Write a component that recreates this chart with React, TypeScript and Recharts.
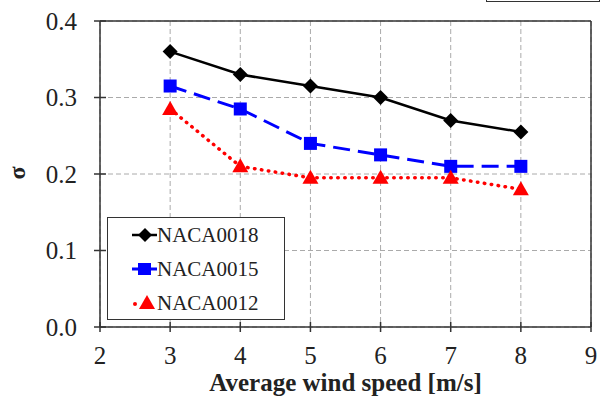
import React from 'react';
import { LineChart, Line, XAxis, YAxis, CartesianGrid, ReferenceLine, Label } from 'recharts';

const windSpeeds = [3, 4, 5, 6, 7, 8];
const naca0018 = [0.36, 0.33, 0.315, 0.3, 0.27, 0.255];
const naca0015 = [0.315, 0.285, 0.24, 0.225, 0.21, 0.21];
const naca0012 = [0.285, 0.21, 0.195, 0.195, 0.195, 0.18];
const xTicks = [2, 3, 4, 5, 6, 7, 8, 9];
const yTicks = [0, 0.1, 0.2, 0.3, 0.4];
const seriesNames = ['NACA0018', 'NACA0015', 'NACA0012'];

const data = windSpeeds.map((x, i) => ({
  x,
  a: naca0018[i],
  b: naca0015[i],
  c: naca0012[i],
}));

const FONT = 'Liberation Serif';
const AXIS = '#333';

const Diamond = (props: any) => {
  const { cx, cy } = props;
  if (cx == null || cy == null) return null;
  const r = 7.5;
  return <polygon points={`${cx},${cy - r} ${cx + r},${cy} ${cx},${cy + r} ${cx - r},${cy}`} fill="#000" />;
};
const Square = (props: any) => {
  const { cx, cy } = props;
  if (cx == null || cy == null) return null;
  const r = 6.5;
  return <rect x={cx - r} y={cy - r} width={2 * r} height={2 * r} fill="#0000ff" />;
};
const Triangle = (props: any) => {
  const { cx, cy } = props;
  if (cx == null || cy == null) return null;
  const r = 8;
  return <polygon points={`${cx},${cy - r} ${cx + r},${cy + r * 0.75} ${cx - r},${cy + r * 0.75}`} fill="#ff0000" />;
};

const XTick = (props: any) => {
  const { x, y, payload } = props;
  const axisY = y - 5 - 14;
  return (
    <g>
      <line x1={x} x2={x} y1={axisY - 5} y2={axisY + 5} stroke={AXIS} strokeWidth={1.5} />
      <text x={x} y={y} dy="0.71em" textAnchor="middle" fontFamily={FONT} fontSize={25} fill="#222">
        {payload.value}
      </text>
    </g>
  );
};

const YTick = (props: any) => {
  const { x, y, payload } = props;
  const axisX = x + 6 + 17;
  return (
    <g>
      <line x1={axisX - 6} x2={axisX + 6} y1={y} y2={y} stroke={AXIS} strokeWidth={1.5} />
      <text x={x} y={y} dy="0.355em" textAnchor="end" fontFamily={FONT} fontSize={25} fill="#222">
        {Number(payload.value).toFixed(1)}
      </text>
    </g>
  );
};

const LegendBox = () => {
  const icons = [
    (
      <svg width={25} height={16}>
        <line x1={0} x2={25} y1={8} y2={8} stroke="#000" strokeWidth={2.5} />
        <polygon points="13,1 20,8 13,15 6,8" fill="#000" />
      </svg>
    ),
    (
      <svg width={25} height={16}>
        <line x1={0} x2={25} y1={8} y2={8} stroke="#0000ff" strokeWidth={3} />
        <rect x={6} y={2} width={13} height={12} fill="#0000ff" />
      </svg>
    ),
    (
      <svg width={25} height={16}>
        <circle cx={3} cy={9} r={2} fill="#ff0000" />
        <polygon points="15,0 23,14 7,14" fill="#ff0000" />
      </svg>
    ),
  ];
  return (
    <div
      style={{
        position: 'absolute',
        left: 107,
        top: 217,
        width: 178,
        height: 103,
        border: '1.5px solid #333',
        background: '#fff',
        boxSizing: 'border-box',
        paddingTop: 0,
        paddingLeft: 24,
      }}
    >
      {seriesNames.map((n, i) => (
        <div key={n} style={{ display: 'flex', alignItems: 'center', height: 34, fontFamily: FONT, fontSize: 21, color: '#222' }}>
          {icons[i]}
          <span>{n}</span>
        </div>
      ))}
    </div>
  );
};

export default function App() {
  return (
    <div style={{ position: 'absolute', left: 0, top: 0, width: 600, height: 401, background: '#fff', overflow: 'hidden', fontFamily: FONT }}>
      <div style={{ position: 'absolute', left: 486, top: -20, width: 114, height: 22, border: '1.5px solid #333', boxSizing: 'border-box' }} />
      <LineChart width={600} height={401} data={data} margin={{ top: 21, right: 9, bottom: 0, left: 0 }}>
        <CartesianGrid stroke="#aaa" strokeDasharray="5 3" horizontal vertical />
        <XAxis
          type="number"
          dataKey="x"
          domain={[2, 9]}
          ticks={xTicks}
          height={74}
          tickSize={5}
          tickMargin={14}
          tickLine={false}
          tick={<XTick />}
          axisLine={{ stroke: AXIS, strokeWidth: 1.5 }}
          interval={0}
        >
          <Label
            value="Average wind speed [m/s]"
            position="insideBottom"
            offset={10}
            fontFamily={FONT}
            fontSize={25}
            fontWeight="bold"
            fill="#222"
          />
        </XAxis>
        <YAxis
          type="number"
          domain={[0, 0.4]}
          ticks={yTicks}
          width={100}
          tickSize={6}
          tickMargin={17}
          tickLine={false}
          tick={<YTick />}
          axisLine={{ stroke: AXIS, strokeWidth: 1.5 }}
          interval={0}
        >
          <Label
            content={() => (
              <text
                x={17}
                y={173}
                transform="rotate(-90 17 173)"
                textAnchor="middle"
                dominantBaseline="central"
                fontFamily={FONT}
                fontSize={24}
                fontWeight="bold"
                fill="#222"
              >
                σ
              </text>
            )}
          />
        </YAxis>
        <ReferenceLine y={0.4} stroke={AXIS} strokeWidth={1.5} />
        <ReferenceLine x={9} stroke={AXIS} strokeWidth={1.5} />
        <Line dataKey="a" name="NACA0018" stroke="#000" strokeWidth={2.5} dot={<Diamond />} isAnimationActive={false} />
        <Line dataKey="b" name="NACA0015" stroke="#0000ff" strokeWidth={3} strokeDasharray="17 8" dot={<Square />} isAnimationActive={false} />
        <Line
          dataKey="c"
          name="NACA0012"
          stroke="#ff0000"
          strokeWidth={3.5}
          strokeDasharray="0.5 6.5"
          strokeLinecap="round"
          dot={<Triangle />}
          isAnimationActive={false}
        />
      </LineChart>
      <LegendBox />
    </div>
  );
}
